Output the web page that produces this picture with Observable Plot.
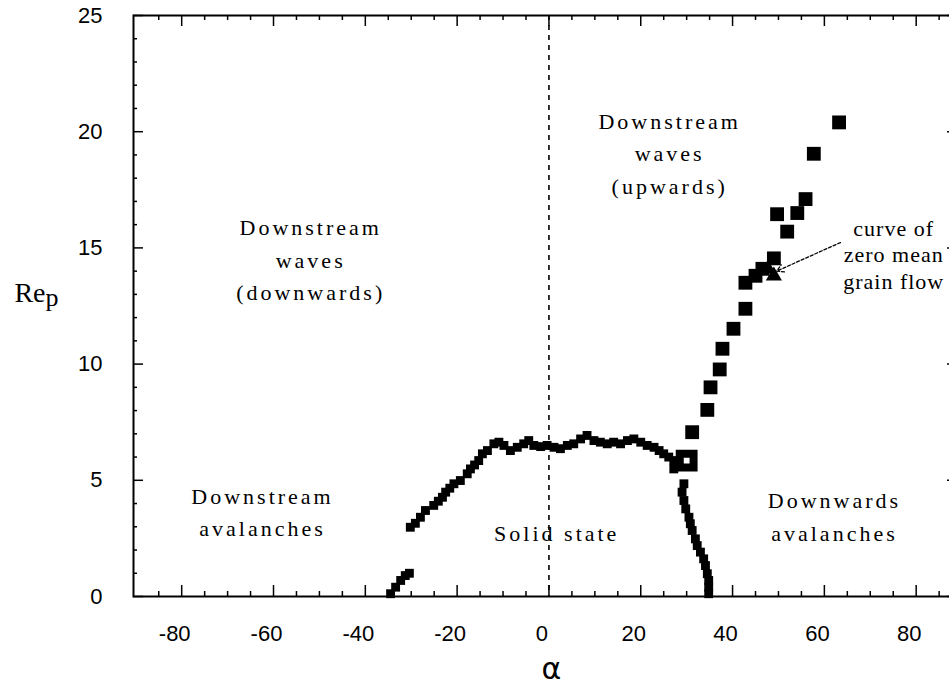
<!DOCTYPE html>
<html><head><meta charset="utf-8">
<script src="https://cdn.jsdelivr.net/npm/d3@7"></script>
<script src="https://cdn.jsdelivr.net/npm/@observablehq/plot@0.6"></script>
<style>html,body{margin:0;padding:0;overflow:hidden;background:#fff}</style>
</head><body><div id="chart"></div>
<script>
// ---- tick values ----
const xTicks = [-80, -60, -40, -20, 0, 20, 40, 60, 80];
const xMinor = [-85, -75, -70, -65, -55, -50, -45, -35, -30, -25, -15, -10, -5, 5, 10, 15, 25, 30, 35, 45, 50, 55, 65, 70, 75, 85];
const yTicks = [0, 5, 10, 15, 20, 25];
const yMinor = [1, 2, 3, 4, 6, 7, 8, 9, 11, 12, 13, 14, 16, 17, 18, 19, 21, 22, 23, 24];

// ---- series 1: solid-state boundary (small markers) ----
const alpha1 = [-34.5, -33.4, -32.3, -31.3, -30.4,
  -30.2, -29.1, -28.0, -26.9, -25.1, -24.1, -23.2, -22.5, -21.6, -20.7, -19.3, -17.8, -17.1, -16.2, -15.3, -14.5, -13.4, -12.0, -10.9, -9.8, -8.4, -6.9, -5.5, -4.4, -3.3, -1.8, -0.4,
  1.1, 2.5, 4.0, 5.4, 6.9, 8.3, 9.8, 11.2, 12.7, 14.1, 15.6, 17.1, 18.5, 20.0, 21.4, 22.9, 24.0, 25.0, 26.1, 27.2, 27.2, 28.3, 29.4,
  29.4, 29.0, 29.4, 29.8, 30.5, 30.8, 31.2, 31.9, 32.3, 33.0, 33.7, 34.1, 34.5, 34.8, 34.8, 34.8];
const re1 = [0.12, 0.40, 0.69, 0.90, 1.00,
  2.98, 3.15, 3.41, 3.70, 3.92, 4.10, 4.27, 4.49, 4.66, 4.85, 4.99, 5.28, 5.49, 5.66, 5.85, 6.14, 6.28, 6.57, 6.64, 6.50, 6.28, 6.42, 6.57, 6.71, 6.50, 6.45, 6.50,
  6.42, 6.36, 6.50, 6.57, 6.78, 6.93, 6.71, 6.64, 6.57, 6.64, 6.57, 6.71, 6.78, 6.64, 6.50, 6.42, 6.28, 6.14, 6.00, 5.85, 5.49, 5.64, 5.71,
  4.85, 4.49, 4.13, 3.77, 3.41, 3.13, 2.84, 2.48, 2.19, 1.91, 1.62, 1.33, 0.98, 0.69, 0.40, 0.12];

// ---- series 2: upward waves boundary (large squares) ----
const alpha2 = [31.2, 34.5, 35.2, 37.2, 37.8, 40.2, 42.8, 42.8, 45.0, 46.5, 49.0, 49.7, 51.9, 54.1, 55.9, 57.7, 63.2];
const re2 = [7.07, 8.03, 9.00, 9.77, 10.66, 11.52, 12.38, 13.50, 13.80, 14.10, 14.55, 16.45, 15.70, 16.50, 17.10, 19.05, 20.40];

// ---- open square at the junction ----
const alphaOpen = [30.0];
const reOpen = [5.85];

// ---- series 3: curve of zero mean grain flow (triangles) ----
const alpha3 = [47.7, 49.0];
const re3 = [14.1, 13.8];

// ---- annotations ----
const regionLabels = ["Downstream\nwaves\n(downwards)", "Downstream\nwaves\n(upwards)", "Downstream\navalanches", "Solid state", "Downwards\navalanches"];
const regionX = [-51.9, 26.3, -62.4, 1.7, 62.2];
const regionY = [14.59, 19.17, 3.74, 2.84, 3.55];
const curveLabel = ["curve of\nzero mean\ngrain flow"];
const curveX = [75.1];
const curveY = [14.74];
const arrowFrom = [63.5, 15.23];
const arrowTo = [49.6, 14.0];

const W = 960, H = 692, mL = 133, mR = 3, mT = 15, mB = 96;
const plotW = W - mL - mR, plotH = H - mT - mB;
const serif = "'Liberation Serif', 'Times New Roman', serif";
const sans = "'Liberation Sans', Arial, sans-serif";

const pts1 = alpha1.map((a, i) => ({a, r: re1[i]}));
const pts2 = alpha2.map((a, i) => ({a, r: re2[i]}));
const ptsO = alphaOpen.map((a, i) => ({a, r: reOpen[i]}));
const pts3 = alpha3.map((a, i) => ({a, r: re3[i]}));

const chart = Plot.plot({
  width: W, height: H,
  marginLeft: mL, marginRight: mR, marginTop: mT, marginBottom: mB,
  style: {fontFamily: sans, fontSize: "22px", color: "black", background: "white", maxWidth: "none"},
  x: {domain: [-90.5, 89]},
  y: {domain: [0, 25]},
  marks: [
    Plot.ruleX([0], {strokeDasharray: "5,5", strokeWidth: 1.6, stroke: "black"}),
    // inward ticks on all four sides
    Plot.tickX(xTicks, {x: d => d, insetTop: plotH - 11, strokeWidth: 1.5}),
    Plot.tickX(xMinor, {x: d => d, insetTop: plotH - 5, strokeWidth: 1.5}),
    Plot.tickX(xTicks, {x: d => d, insetBottom: plotH - 11, strokeWidth: 1.5}),
    Plot.tickX(xMinor, {x: d => d, insetBottom: plotH - 5, strokeWidth: 1.5}),
    Plot.tickY(yTicks, {y: d => d, insetRight: plotW - 10, strokeWidth: 1.5}),
    Plot.tickY(yMinor, {y: d => d, insetRight: plotW - 4, strokeWidth: 1.5}),
    Plot.tickY(yTicks, {y: d => d, insetLeft: plotW - 10, strokeWidth: 1.5}),
    Plot.tickY(yMinor, {y: d => d, insetLeft: plotW - 4, strokeWidth: 1.5}),
    Plot.frame({strokeWidth: 2}),
    Plot.axisX(xTicks, {tickSize: 0, tickPadding: 29, tickFormat: d => String(d), dx: -7, label: null}),
    Plot.axisY(yTicks, {tickSize: 0, tickPadding: 31, tickFormat: d => String(d), label: null}),
    // data
    Plot.dot(pts1, {x: "a", y: "r", symbol: "square", r: 5, fill: "black", stroke: "none"}),
    Plot.dot(pts2, {x: "a", y: "r", symbol: "square", r: 7.8, fill: "black", stroke: "none"}),
    Plot.dot(pts3, {x: "a", y: "r", symbol: "triangle", r: 6, fill: "black", stroke: "none"}),
    Plot.dot(ptsO, {x: "a", y: "r", symbol: "square", r: 7.8, fill: "white", stroke: "black", strokeWidth: 8}),
    // annotations
    Plot.arrow([0], {x1: () => arrowFrom[0], y1: () => arrowFrom[1], x2: () => arrowTo[0], y2: () => arrowTo[1],
      stroke: "black", strokeWidth: 1.3, strokeDasharray: "3,2", headLength: 9, bend: 0}),
    Plot.text(regionLabels, {x: (d, i) => regionX[i], y: (d, i) => regionY[i], text: d => d,
      fontFamily: serif, fontSize: 22, lineHeight: 1.48, fill: "black", ariaDescription: "annot"}),
    Plot.text(curveLabel, {x: (d, i) => curveX[i], y: (d, i) => curveY[i], text: d => d,
      fontFamily: serif, fontSize: 22, lineHeight: 1.2, fill: "black", ariaDescription: "annot2"}),
    // axis titles
    Plot.text(["Re"], {frameAnchor: "left", dx: -88, dy: -12.5, textAnchor: "end", fontFamily: serif, fontSize: 28, fill: "black"}),
    Plot.text(["p"], {frameAnchor: "left", dx: -88, dy: -8, textAnchor: "start", fontFamily: serif, fontSize: 26, fill: "black"}),
    Plot.text(["α"], {frameAnchor: "bottom", dx: 6, dy: 82, fontFamily: "'DejaVu Sans', sans-serif", fontSize: 30, fill: "black"})
  ]
});
d3.select(chart).selectAll('g[aria-description="annot"] text').attr("letter-spacing", "3px");
d3.select(chart).selectAll('g[aria-description="annot2"] text').attr("letter-spacing", "1px");
document.getElementById("chart").appendChild(chart);
</script>
</body></html>
